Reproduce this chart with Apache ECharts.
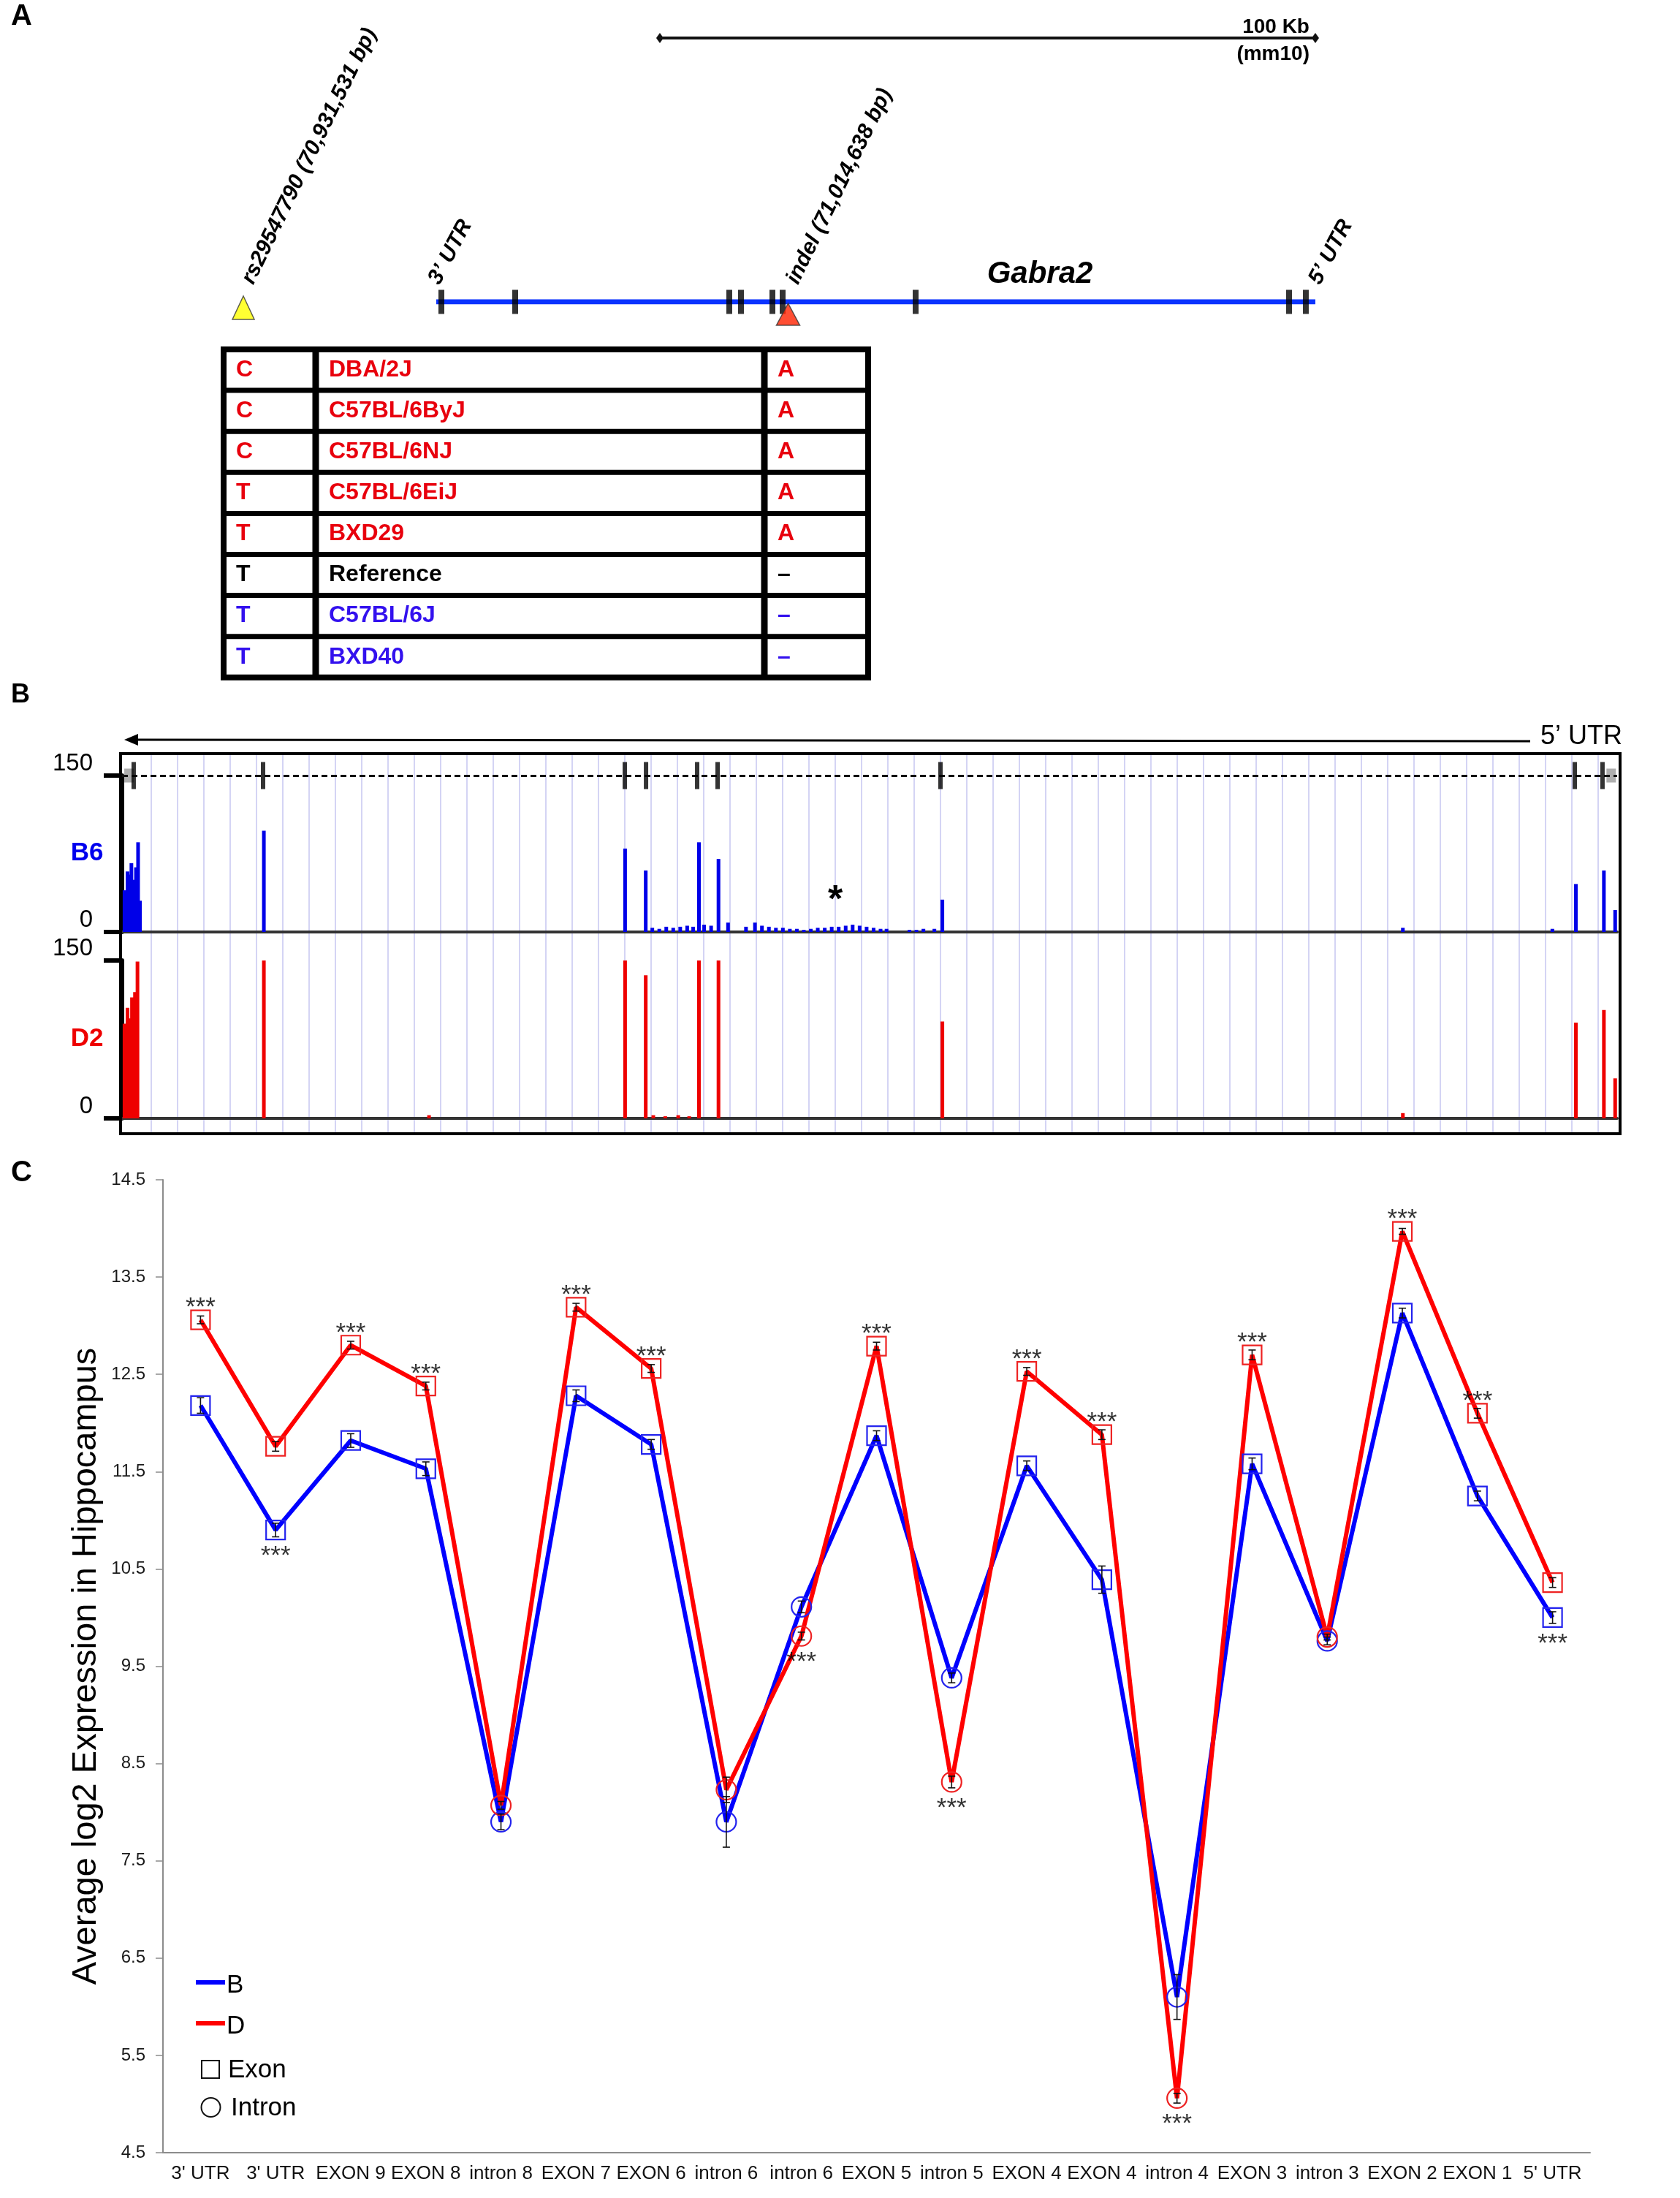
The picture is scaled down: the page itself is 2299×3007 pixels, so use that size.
<!DOCTYPE html>
<html>
<head>
<meta charset="utf-8">
<script src="https://cdn.jsdelivr.net/npm/echarts@6/dist/echarts.min.js"></script>
<style>
html,body{margin:0;padding:0;background:#fff;}
#main{width:2299px;height:3007px;}
</style>
</head>
<body>
<div id="main"></div>
<script>
/*Gabra2 三联图：A基因结构 B覆盖度 C表达量*/

//面板A数据（单位 kb, mm10）
var geneSpan = [70960.96, 71095.07];
var exonPosA = [70961.74, 70973.0, 71005.66, 71007.45, 71012.24, 71013.8, 71034.09, 71091.06, 71093.62];
var variantPos = [70931.531, 71014.638];
var variantNames = ['rs29547790 (70,931,531 bp)', 'indel (71,014,638 bp)'];
var scaleBar = [70995.07, 71095.07];

//面板A表格
var snpAllele = ['C', 'C', 'C', 'T', 'T', 'T', 'T', 'T'];
var strainNames = ['DBA/2J', 'C57BL/6ByJ', 'C57BL/6NJ', 'C57BL/6EiJ', 'BXD29', 'Reference', 'C57BL/6J', 'BXD40'];
var indelAllele = ['A', 'A', 'A', 'A', 'A', '\u2013', '\u2013', '\u2013'];
var rowGroup = ['D', 'D', 'D', 'D', 'D', 'R', 'B', 'B'];

//面板B覆盖度（位置 0-150，读数 0-150）
var b6Pos = [0.25,0.55,0.75,0.94,1.15,1.4,1.61,1.8,14.23,50.47,52.54,53.2,53.9,54.6,55.3,56.0,56.7,57.3,57.88,58.4,59.1,59.84,60.8,62.6,63.5,64.2,64.9,65.6,66.3,67.0,67.7,68.4,69.1,69.8,70.5,71.2,71.9,72.6,73.3,74.0,74.7,75.4,76.1,76.7,79.0,79.7,80.4,81.5,82.3,128.5,143.5,145.86,148.67,149.8];
var b6Cov = [40,58,55,66,50,62,86,30,97,80,59,4,3,5,4,5,6,5,86,7,6,70,9,5,9,6,5,4,4,3,3,2,3,4,4,5,5,6,7,6,5,4,3,3,2,2,3,3,31,4,3,46,59,21];
var d2Pos = [0.25,0.55,0.8,1.0,1.3,1.55,14.23,30.8,50.47,52.54,53.3,54.5,55.8,56.9,57.88,59.84,82.3,128.5,145.86,148.67,149.8];
var d2Cov = [90,105,95,115,120,149,150,3,150,136,3,2,3,2,150,150,92,5,91,103,38];
var exonPosB = [1.17, 14.15, 50.44, 52.57, 57.7, 59.75, 82.11, 145.75, 148.53];
var utrPosB = [0.7, 149.4];

//面板C表达量
var categories = ["3' UTR","3' UTR","EXON 9","EXON 8","intron 8","EXON 7","EXON 6","intron 6","intron 6","EXON 5","intron 5","EXON 4","EXON 4","intron 4","EXON 3","intron 3","EXON 2","EXON 1","5' UTR"];
var featureType = ['exon','exon','exon','exon','intron','exon','exon','intron','intron','exon','intron','exon','exon','intron','exon','intron','exon','exon','exon'];
var exprB = [12.18,10.90,11.82,11.53,7.90,12.28,11.78,7.90,10.11,11.87,9.38,11.56,10.39,6.10,11.58,9.76,13.13,11.25,10.00];
var exprD = [13.06,11.76,12.80,12.38,8.07,13.19,12.56,8.23,9.81,12.79,8.31,12.53,11.88,5.06,12.70,9.80,13.97,12.10,10.36];
var errB = [0.08,0.07,0.07,0.07,0.08,0.06,0.05,0.26,0.06,0.05,0.05,0.05,0.14,0.23,0.06,0.04,0.05,0.05,0.06];
var errD = [0.04,0.05,0.04,0.04,0.04,0.04,0.04,0.13,0.04,0.04,0.06,0.04,0.05,0.05,0.05,0.03,0.03,0.05,0.05];
var starSide = ['D+','B-','D+','D+','','D+','D+','','D-','D+','D-','D+','D+','D-','D+','','D+','D+','B-'];
var yTicks = [4.5,5.5,6.5,7.5,8.5,9.5,10.5,11.5,12.5,13.5,14.5];

var FONT = '"Liberation Sans", Arial, sans-serif';
var RED = '#e8000d', BLUE = '#3311ee';

//线上标记
function markerData(vals){
    let arr = [];
    for(let i=0; i<vals.length; i++){
        let isIntron = featureType[i] === 'intron';
        arr.push({
            value: vals[i],
            symbol: isIntron ? 'circle' : 'rect',
            symbolSize: isIntron ? 27 : 26
        });
    }
    return arr;
}

//误差线
function errorSeries(vals, errs){
    let data = [];
    for(let i=0; i<vals.length; i++){
        data.push([i, vals[i] - errs[i], vals[i] + errs[i]]);
    }
    return {
        type: 'custom',
        xAxisIndex: 4,
        yAxisIndex: 4,
        z: 4,
        silent: true,
        renderItem: function(params, api){
            let lo = api.coord([api.value(0), api.value(1)]);
            let hi = api.coord([api.value(0), api.value(2)]);
            let st = {stroke: '#111', lineWidth: 1.6};
            return {
                type: 'group',
                children: [
                    {type: 'line', shape: {x1: lo[0], y1: lo[1], x2: hi[0], y2: hi[1]}, style: st},
                    {type: 'line', shape: {x1: lo[0]-5, y1: lo[1], x2: lo[0]+5, y2: lo[1]}, style: st},
                    {type: 'line', shape: {x1: hi[0]-5, y1: hi[1], x2: hi[0]+5, y2: hi[1]}, style: st}
                ]
            };
        },
        data: data
    };
}

//显著性星号
var starData = [];
for(let i=0; i<starSide.length; i++){
    if(starSide[i] === '') continue;
    let v = starSide[i].charAt(0) === 'B' ? exprB[i] : exprD[i];
    let up = starSide[i].charAt(1) === '+';
    starData.push({value: [i, v], label: {offset: [0, up ? -16 : 36]}});
}

function track(data, pos){
    let arr = [];
    for(let i=0; i<pos.length; i++){
        arr.push([pos[i], data[i]]);
    }
    return arr;
}

var trackY = function(idx){
    return {
        gridIndex: idx, type: 'value', min: 0, max: 150, interval: 150,
        axisLine: {show: true, lineStyle: {color: '#000', width: 6}},
        axisTick: {show: true, length: 25, lineStyle: {color: '#000', width: 6}},
        axisLabel: {show: true, fontSize: 33, color: '#000', margin: 40, verticalAlign: 'bottom',
            showMinLabel: true, showMaxLabel: true, fontFamily: FONT},
        splitLine: {show: false}
    };
};
var trackX = function(idx){
    return {
        gridIndex: idx, type: 'value', min: 0, max: 150,
        axisLine: {show: true, onZero: false, lineStyle: {color: '#333', width: 4}},
        axisTick: {show: false}, axisLabel: {show: false}, splitLine: {show: false}
    };
};

var chart = echarts.init(document.getElementById('main'));
var option = {
    animation: false,
    backgroundColor: '#fff',
    textStyle: {fontFamily: FONT},
    grid: [
        {left: 50.2, top: 52, width: 1794, height: 361},
        {left: 206.6, top: 1033, width: 1980, height: 516},
        {left: 167, top: 1061, width: 2046, height: 214},
        {left: 167, top: 1314, width: 2046, height: 216},
        {left: 223, top: 1614, width: 1953, height: 1331}
    ],
    xAxis: [
        {gridIndex: 0, type: 'value', min: 70900, max: 71100, show: false},
        {gridIndex: 1, type: 'value', min: 0, max: 55, interval: 1,
            axisLine: {show: false}, axisTick: {show: false}, axisLabel: {show: false},
            splitLine: {show: true, lineStyle: {color: '#d4d4f4', width: 2}}},
        trackX(2),
        trackX(3),
        {
            gridIndex: 4, type: 'category', data: categories,
            axisLine: {lineStyle: {color: '#8c8c8c', width: 2}},
            axisTick: {length: 9, lineStyle: {color: '#8c8c8c', width: 1.5}},
            axisLabel: {interval: 0, fontSize: 26, color: '#111', margin: 16}
        }
    ],
    yAxis: [
        {gridIndex: 0, type: 'value', min: 0, max: 1, show: false},
        {gridIndex: 1, type: 'value', min: 0, max: 1, show: false},
        trackY(2),
        trackY(3),
        {
            gridIndex: 4, type: 'value', min: 4.5, max: 14.5,
            name: 'Average log2 Expression in Hippocampus',
            nameLocation: 'middle', nameGap: 78,
            nameTextStyle: {fontSize: 47, color: '#000'},
            axisLine: {show: true, lineStyle: {color: '#8c8c8c', width: 2}},
            axisTick: {show: true, length: 10, customValues: yTicks, lineStyle: {color: '#8c8c8c', width: 1.5}},
            axisLabel: {customValues: yTicks, fontSize: 24, color: '#1a1a1a', margin: 24,
                formatter: function(v){ return v.toFixed(1); }},
            splitLine: {show: false}
        }
    ],
    series: [
        //A：基因线
        {
            type: 'line', xAxisIndex: 0, yAxisIndex: 0, silent: true,
            data: [[geneSpan[0], 0], [geneSpan[1], 0]],
            symbol: 'none', lineStyle: {color: '#0a33ff', width: 7}
        },
        //A：外显子
        {
            type: 'scatter', xAxisIndex: 0, yAxisIndex: 0, silent: true, z: 3,
            data: exonPosA.map(function(p){ return [p, 0]; }),
            symbol: 'rect', symbolSize: [8, 33], itemStyle: {color: '#000'}
        },
        //A：变异位点
        {
            type: 'scatter', xAxisIndex: 0, yAxisIndex: 0, silent: true, z: 4,
            symbol: 'triangle',
            data: [
                {value: [variantPos[0], 0], symbolSize: [30, 32], symbolOffset: [0, 8],
                    itemStyle: {color: '#ffff00', borderColor: '#333', borderWidth: 1.5}},
                {value: [variantPos[1], 0], symbolSize: [32, 30], symbolOffset: [0, 17],
                    itemStyle: {color: '#ff2200', borderColor: '#333', borderWidth: 1.5}}
            ]
        },
        //A：比例尺
        {
            type: 'line', xAxisIndex: 0, yAxisIndex: 0, silent: true,
            data: [[scaleBar[0], 1], [scaleBar[1], 1]],
            symbol: 'diamond', symbolSize: [10, 14], showSymbol: true,
            lineStyle: {color: '#111', width: 4}, itemStyle: {color: '#111'}
        },
        //B：B6覆盖度
        {
            type: 'bar', xAxisIndex: 2, yAxisIndex: 2, silent: true,
            data: track(b6Cov, b6Pos), barWidth: 5,
            itemStyle: {color: '#0000e8'},
            markLine: {
                silent: true, symbol: 'none', label: {show: false},
                lineStyle: {color: '#111', width: 3, type: [8, 5]},
                data: [{yAxis: 150}]
            }
        },
        //B：外显子刻度
        {
            type: 'scatter', xAxisIndex: 2, yAxisIndex: 2, silent: true, z: 5,
            data: exonPosB.map(function(p){ return [p, 150]; }),
            symbol: 'rect', symbolSize: [6, 37], itemStyle: {color: '#000'}
        },
        {
            type: 'scatter', xAxisIndex: 2, yAxisIndex: 2, silent: true, z: 4,
            data: utrPosB.map(function(p){ return [p, 150]; }),
            symbol: 'rect', symbolSize: [13, 19], itemStyle: {color: '#9a9a9a'}
        },
        //B：D2覆盖度
        {
            type: 'bar', xAxisIndex: 3, yAxisIndex: 3, silent: true,
            data: track(d2Cov, d2Pos), barWidth: 5,
            itemStyle: {color: '#ee0000'}
        },
        //C：B品系
        {
            type: 'line', xAxisIndex: 4, yAxisIndex: 4, silent: true, z: 3,
            data: markerData(exprB),
            showSymbol: true,
            lineStyle: {color: '#0000ff', width: 6},
            itemStyle: {color: 'rgba(255,255,255,0)', borderColor: '#2323ee', borderWidth: 2.2}
        },
        //C：D品系
        {
            type: 'line', xAxisIndex: 4, yAxisIndex: 4, silent: true, z: 3,
            data: markerData(exprD),
            showSymbol: true,
            lineStyle: {color: '#ff0000', width: 6},
            itemStyle: {color: 'rgba(255,255,255,0)', borderColor: '#ee2222', borderWidth: 2.2}
        },
        errorSeries(exprB, errB),
        errorSeries(exprD, errD),
        {
            type: 'scatter', xAxisIndex: 4, yAxisIndex: 4, silent: true, z: 6,
            data: starData, symbolSize: 1, itemStyle: {color: 'rgba(0,0,0,0)'},
            label: {show: true, position: 'inside', formatter: '***', fontSize: 35, color: '#000'}
        }
    ]
};
chart.setOption(option);

//图形元素：文字、表格、图例
var g = [];
function txt(s, x, y, size, opt){
    opt = opt || {};
    let font = (opt.style || '') + ' ' + (opt.weight || 'normal') + ' ' + size + 'px ' + FONT;
    let el = {
        type: 'text', x: x, y: y, z: 10, silent: true,
        rotation: opt.rot ? opt.rot * Math.PI / 180 : 0,
        style: {
            text: s, font: font, fill: opt.color || '#000',
            textAlign: opt.align || 'left', align: opt.align || 'left',
            textVerticalAlign: 'middle', verticalAlign: 'middle'
        }
    };
    g.push(el);
}

//面板标签
txt('A', 15, 23, 40, {weight: 'bold'});
txt('B', 15, 951, 36, {weight: 'bold'});
txt('C', 15, 1605, 40, {weight: 'bold'});

//面板A旋转标签
for(let i=0; i<variantPos.length; i++){
    let p = chart.convertToPixel({gridIndex: 0}, [variantPos[i], 0]);
    txt(variantNames[i], p[0] + 6, p[1] - 26, 30, {weight: 'bold', style: 'italic', rot: 64});
}
{
    let p1 = chart.convertToPixel({gridIndex: 0}, [exonPosA[0], 0]);
    txt('3\u2019 UTR', p1[0] - 10, p1[1] - 26, 30, {weight: 'bold', style: 'italic', rot: 62});
    let p2 = chart.convertToPixel({gridIndex: 0}, [exonPosA[exonPosA.length - 1], 0]);
    txt('5\u2019 UTR', p2[0] + 12, p2[1] - 26, 30, {weight: 'bold', style: 'italic', rot: 62});
    let s = chart.convertToPixel({gridIndex: 0}, [scaleBar[1], 1]);
    txt('100 Kb', s[0] - 8, s[1] - 15, 28, {weight: 'bold', align: 'right'});
    txt('(mm10)', s[0] - 8, s[1] + 22, 28, {weight: 'bold', align: 'right'});
}
txt('Gabra2', 1423, 375, 42, {weight: 'bold', style: 'italic', align: 'center'});

//表格
{
    let top = 478, rowH = 56.1, left = 306, right = 1188;
    let colors = {D: RED, R: '#000', B: BLUE};
    for(let i=1; i<8; i++){
        g.push({type: 'line', silent: true, z: 9, shape: {x1: left, y1: top + rowH*i, x2: right, y2: top + rowH*i},
            style: {stroke: '#000', lineWidth: 7}});
    }
    [432, 1046].forEach(function(x){
        g.push({type: 'line', silent: true, z: 9, shape: {x1: x, y1: top, x2: x, y2: top + rowH*8},
            style: {stroke: '#000', lineWidth: 9}});
    });
    g.push({type: 'rect', silent: true, z: 9, shape: {x: left, y: top, width: right - left, height: rowH*8},
        style: {fill: 'none', stroke: '#000', lineWidth: 8}});
    for(let i=0; i<8; i++){
        let y = top + rowH*(i + 0.5);
        let c = colors[rowGroup[i]];
        txt(snpAllele[i], 323, y, 32, {weight: 'bold', color: c});
        txt(strainNames[i], 450, y, 32, {weight: 'bold', color: c});
        txt(indelAllele[i], 1064, y, 32, {weight: 'bold', color: c});
    }
}

//面板B装饰
g.push({type: 'rect', silent: true, z: 8, shape: {x: 165, y: 1031, width: 2052, height: 520},
    style: {fill: 'none', stroke: '#000', lineWidth: 4}});
g.push({type: 'line', silent: true, z: 8, shape: {x1: 184, y1: 1012, x2: 2094, y2: 1014},
    style: {stroke: '#000', lineWidth: 3}});
g.push({type: 'polygon', silent: true, z: 8, shape: {points: [[170, 1012], [189, 1004], [189, 1020]]},
    style: {fill: '#000'}});
txt('5\u2019 UTR', 2108, 1008, 36);
txt('B6', 119, 1167, 35, {weight: 'bold', color: '#0000ee', align: 'center'});
txt('D2', 119, 1421, 35, {weight: 'bold', color: '#ee0000', align: 'center'});
txt('*', 1143, 1233, 52, {weight: 'bold', align: 'center'});

//面板C图例
g.push({type: 'line', silent: true, z: 8, shape: {x1: 268, y1: 2712, x2: 308, y2: 2712},
    style: {stroke: '#0000ff', lineWidth: 6}});
txt('B', 310, 2716, 35);
g.push({type: 'line', silent: true, z: 8, shape: {x1: 268, y1: 2768, x2: 308, y2: 2768},
    style: {stroke: '#ff0000', lineWidth: 6}});
txt('D', 310, 2772, 35);
g.push({type: 'rect', silent: true, z: 8, shape: {x: 276, y: 2819, width: 24, height: 24},
    style: {fill: 'none', stroke: '#111', lineWidth: 2}});
txt('Exon', 312, 2832, 35);
g.push({type: 'circle', silent: true, z: 8, shape: {cx: 288.5, cy: 2883, r: 13},
    style: {fill: 'none', stroke: '#111', lineWidth: 2}});
txt('Intron', 316, 2884, 35);

chart.setOption({graphic: g});
</script>
</body>
</html>
